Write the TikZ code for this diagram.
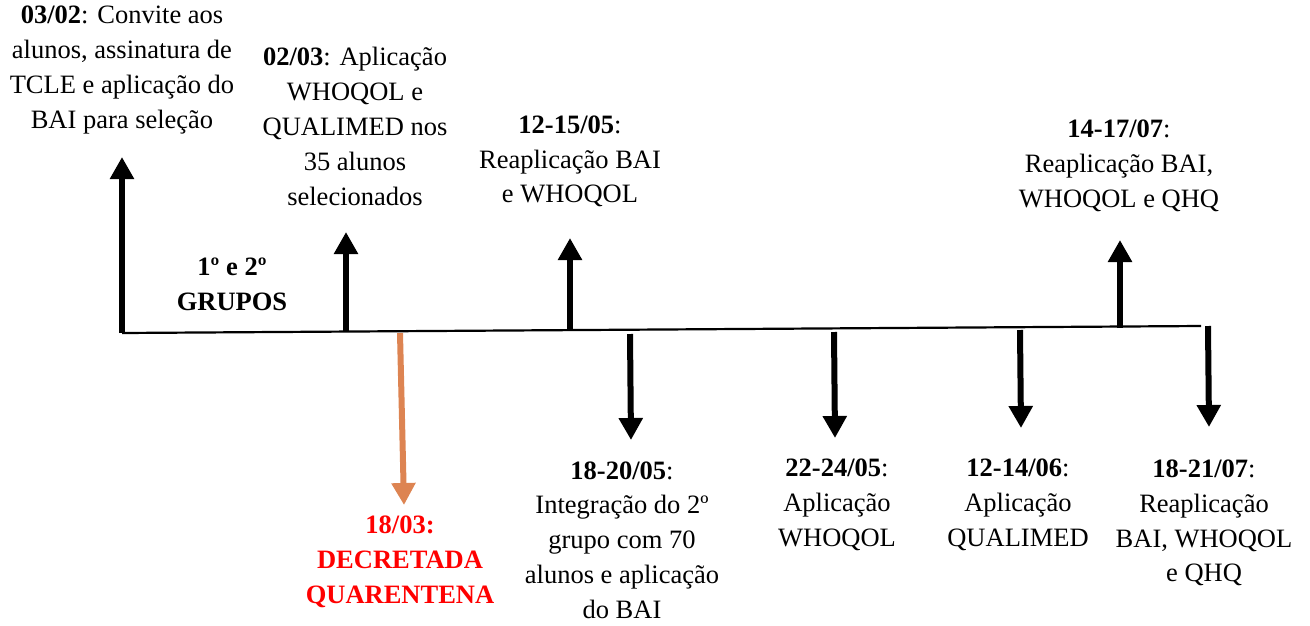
\documentclass[tikz,border=0pt]{standalone}
\usepackage{fontspec}
\setmainfont{Liberation Serif}
\usetikzlibrary{arrows.meta, positioning, calc}
\definecolor{colOrange}{RGB}{221, 132, 82}
\definecolor{colRed}{RGB}{255, 0, 0}

\tikzset{
    evento/.style={align=center, inner sep=0pt, font=\fontsize{26.5}{34.8}\selectfont},
    seta/.style={line width=6pt, -{Triangle[width=23pt,length=22pt]}}
}

\begin{document}
\begin{tikzpicture}[x=1pt, y=-1pt]
    \useasboundingbox (0,0) rectangle (1310,625);

    % --- Linha do tempo ---
    \coordinate (ini) at (122,333);
    \coordinate (fim) at (1201,326);
    \draw[line width=2.2pt] (ini) -- (fim);

    % Setas para cima
    \foreach \nome/\x/\ybase/\ytopo in {a/122/333/157, b/346/332/232, c/570/330/238, d/1120/328/240} {
        \coordinate (base-\nome) at (\x,\ybase);
        \coordinate (topo-\nome) at (\x,\ytopo);
        \draw[seta] (base-\nome) -- (topo-\nome);
    }

    % Setas para baixo
    \foreach \nome/\x/\ybase/\ype in {e/630/334/440, f/834/332/438, g/1020/330/428, h/1208/326/427} {
        \coordinate (base-\nome) at (\x,\ybase);
        \coordinate (pe-\nome) at (\x+1,\ype);
        \draw[seta] (base-\nome) -- (pe-\nome);
    }

    % Quarentena (laranja)
    \coordinate (base-q) at (400,333);
    \coordinate (pe-q) at (404,505);
    \draw[seta, colOrange] (base-q) -- (pe-q);

    % --- Textos acima ---
    \node[evento] (ev0302) at (122,70) {\textbf{03/02}: Convite aos\\alunos, assinatura de\\TCLE e aplicação do\\BAI para seleção};
    \node[evento] (ev0203) at (355,126.5) {\textbf{02/03}: Aplicação\\WHOQOL e\\QUALIMED nos\\35 alunos\\selecionados};
    \node[evento] (ev1205) at (570,161.5) {\textbf{12-15/05}:\\Reaplicação BAI\\e WHOQOL};
    \node[evento] (ev1407) at (1119,166) {\textbf{14-17/07}:\\Reaplicação BAI,\\WHOQOL e QHQ};
    \node[evento, font=\bfseries\fontsize{26.5}{34.8}\selectfont] (grupos) at (232,284) {1º e 2º\\GRUPOS};

    % --- Textos abaixo ---
    \node[evento, text=colRed, font=\bfseries\fontsize{26.5}{34.8}\selectfont] (ev1803) at (400,562) {18/03:\\DECRETADA\\QUARENTENA};
    \node[evento] (ev1805) at (622,540) {\textbf{18-20/05}:\\Integração do 2º\\grupo com 70\\alunos e aplicação\\do BAI};
    \node[evento] (ev2205) at (837,505) {\textbf{22-24/05}:\\Aplicação\\WHOQOL};
    \node[evento] (ev1206) at (1018,505) {\textbf{12-14/06}:\\Aplicação\\QUALIMED};
    \node[evento] (ev1807) at (1204,523) {\textbf{18-21/07}:\\Reaplicação\\BAI, WHOQOL\\e QHQ};
\end{tikzpicture}
\end{document}
